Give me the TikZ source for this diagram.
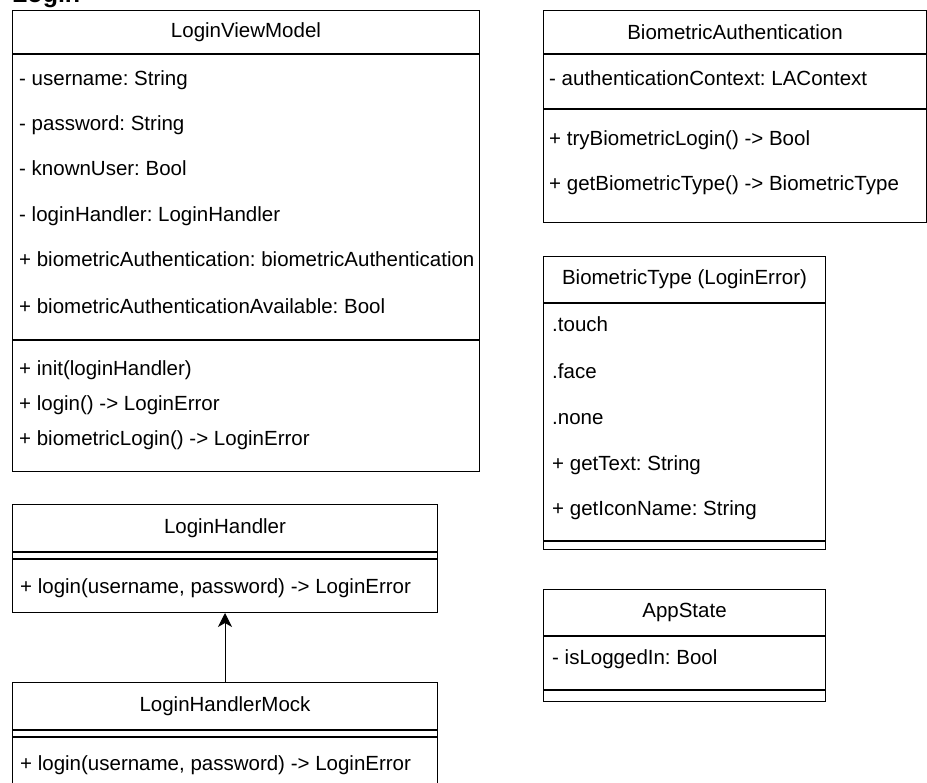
\documentclass[tikz,border=0pt]{standalone}
\usepackage{fontspec}
\setmainfont{Liberation Sans}
\usetikzlibrary{positioning, arrows.meta}
\tikzset{
box/.style={draw, line width=1pt, rectangle, inner sep=0pt, anchor=north west}, % one compartment of a class
head/.style={box, font=\fontsize{20.5}{25}\selectfont}, % compartment that holds the class name
member/.style={anchor=west, inner sep=0pt, text height=15pt, text depth=4pt, font=\fontsize{20.5}{25}\selectfont}, % one attribute or method
>={Stealth[length=14pt, width=14pt, inset=4pt]}, % filled arrow head
}
\frenchspacing

\begin{document}
\begin{tikzpicture}[x=1pt, y=-1pt]
  \useasboundingbox (0,0) rectangle (927,783);
  \node[anchor=base west, inner sep=0pt, font=\bfseries\fontsize{25}{30}\selectfont] (title) at (12,3) {Login};

  % LoginViewModel
  \node[head, minimum width=467pt, minimum height=43pt] (vm) at (12,10) {LoginViewModel};
  \node[box, minimum width=467pt, minimum height=285pt] (vmAttr) at (vm.south west) {};
  \node[box, minimum width=467pt, minimum height=131pt] (vmOps) at (vmAttr.south west) {};
  \node[member] (vmA1) at (19,80) {- username: String};
  \node[member] (vmA2) at (19,125) {- password: String};
  \node[member] (vmA3) at (19,170) {- knownUser: Bool};
  \node[member] (vmA4) at (19,216) {- loginHandler: LoginHandler};
  \node[member] (vmA5) at (19,261) {+ biometricAuthentication: biometricAuthentication};
  \node[member] (vmA6) at (19,308) {+ biometricAuthenticationAvailable: Bool};
  \node[member] (vmO1) at (19,370) {+ init(loginHandler)};
  \node[member] (vmO2) at (19,405) {+ login() -> LoginError};
  \node[member] (vmO3) at (19,440) {+ biometricLogin() -> LoginError};

  % LoginHandler
  \node[head, minimum width=425pt, minimum height=47pt] (lh) at (12,504) {LoginHandler};
  \node[box, minimum width=425pt, minimum height=6pt] (lhAttr) at (lh.south west) {};
  \node[box, minimum width=425pt, minimum height=53pt] (lhOps) at (lhAttr.south west) {};
  \node[member] (lhO1) at (20,588) {+ login(username, password) -> LoginError};

  % LoginHandlerMock
  \node[head, minimum width=425pt, minimum height=47pt] (mock) at (12,682) {LoginHandlerMock};
  \node[box, minimum width=425pt, minimum height=6pt] (mockAttr) at (mock.south west) {};
  \node[box, minimum width=425pt, minimum height=53pt] (mockOps) at (mockAttr.south west) {};
  \node[member] (mockO1) at (20,765) {+ login(username, password) -> LoginError};

  \draw[->, line width=1pt] (mock.north) -- (lhOps.south);

  % BiometricAuthentication
  \node[head, minimum width=383pt, minimum height=43pt] (ba) at (543,10) {BiometricAuthentication};
  \node[box, minimum width=383pt, minimum height=54pt] (baAttr) at (ba.south west) {};
  \node[box, minimum width=383pt, minimum height=113pt] (baOps) at (baAttr.south west) {};
  \node[member] (baA1) at (549,80) {- authenticationContext: LAContext};
  \node[member] (baO1) at (549,140) {+ tryBiometricLogin() -> Bool};
  \node[member] (baO2) at (549,185) {+ getBiometricType() -> BiometricType};

  % BiometricType
  \node[head, minimum width=282pt, minimum height=46pt] (bt) at (543,256) {BiometricType (LoginError)};
  \node[box, minimum width=282pt, minimum height=237pt] (btAttr) at (bt.south west) {};
  \node[box, minimum width=282pt, minimum height=8pt] (btOps) at (btAttr.south west) {};
  \node[member] (btA1) at (552,326) {.touch};
  \node[member] (btA2) at (552,373) {.face};
  \node[member] (btA3) at (552,419) {.none};
  \node[member] (btA4) at (552,465) {+ getText: String};
  \node[member] (btA5) at (552,510) {+ getIconName: String};

  % AppState
  \node[head, minimum width=282pt, minimum height=46pt] (app) at (543,589) {AppState};
  \node[box, minimum width=282pt, minimum height=53pt] (appAttr) at (app.south west) {};
  \node[box, minimum width=282pt, minimum height=11pt] (appOps) at (appAttr.south west) {};
  \node[member] (appA1) at (552,659) {- isLoggedIn: Bool};
\end{tikzpicture}
\end{document}
